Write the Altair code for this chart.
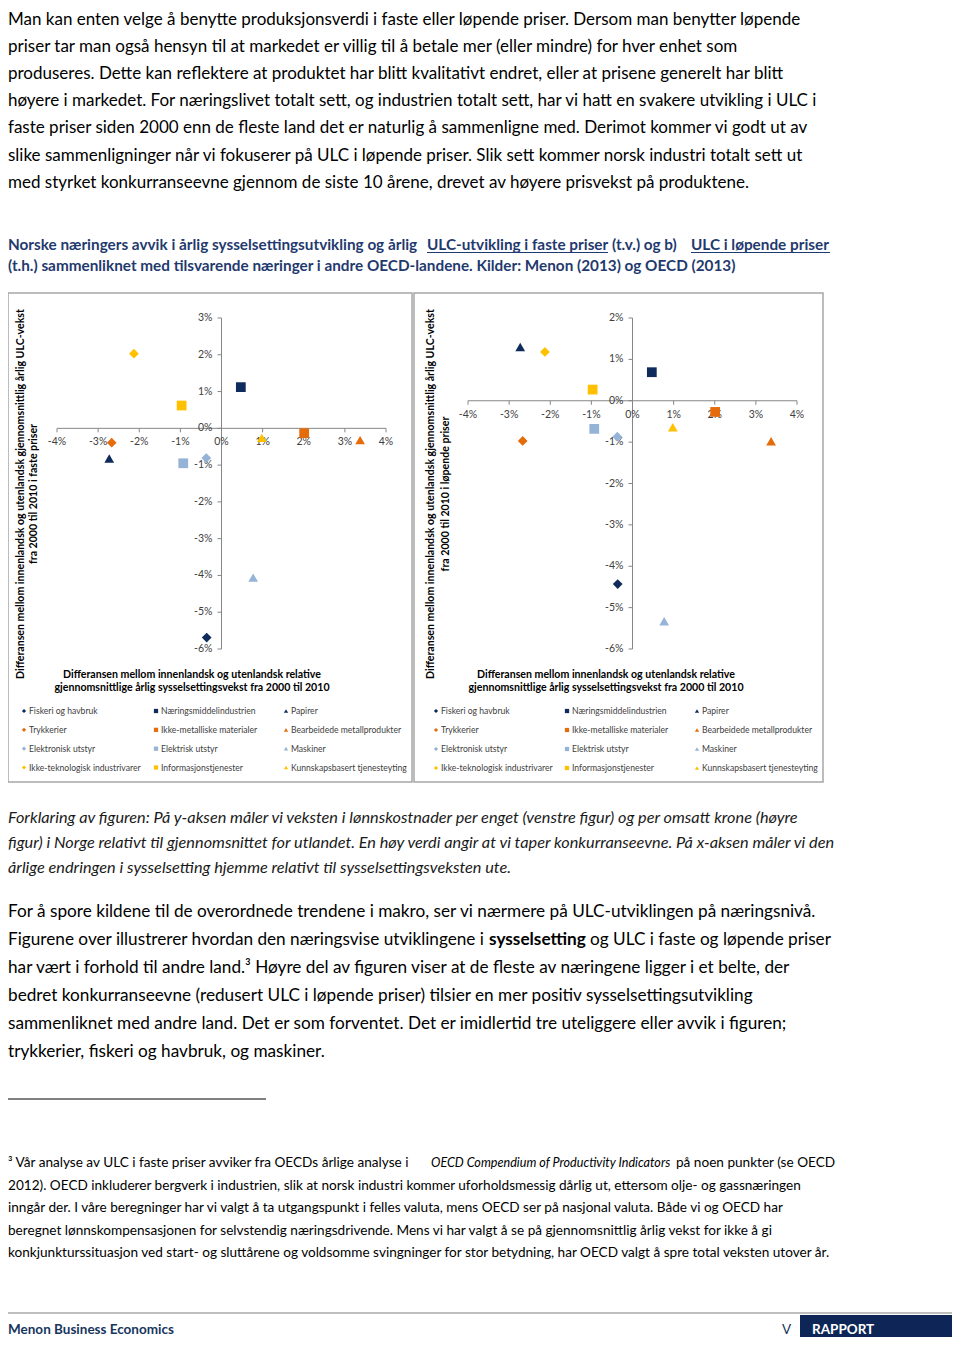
import altair as alt
import pandas as pd

FONT = "Lato"
OX, OY = 8, 8
L = 8  # left text edge (page px)

def P(x):
    return x - OX

def Q(y):
    return y - OY

# ---------------- data ----------------
series = ["Fiskeri og havbruk", "Næringsmiddelindustrien", "Papirer",
          "Trykkerier", "Ikke-metalliske materialer", "Bearbeidede metallprodukter",
          "Elektronisk utstyr", "Elektrisk utstyr", "Maskiner",
          "Ikke-teknologisk industrivarer", "Informasjonstjenester", "Kunnskapsbasert tjenesteyting"]
NAVY, ORANGE, LBLUE, GOLD = "#0F2B5B", "#E46C0A", "#95B3D7", "#FFC000"
series_colors = [NAVY, NAVY, NAVY, ORANGE, ORANGE, ORANGE, LBLUE, LBLUE, LBLUE, GOLD, GOLD, GOLD]
series_shapes = ["diamond", "square", "triangle-up"] * 4

emp_diff = [-0.36, 0.47, -2.73, -2.67, 2.01, 3.37, -0.37, -0.93, 0.77, -2.13, -0.97, 0.98]
ulc_fixed = [-5.69, 1.12, -0.82, -0.39, -0.13, -0.32, -0.81, -0.95, -4.06, 2.03, 0.62, -0.26]
ulc_current = [-4.43, 0.69, 1.30, -0.97, -0.27, -0.98, -0.87, -0.68, -5.33, 1.18, 0.27, -0.64]

x_ticks = [-4, -3, -2, -1, 0, 1, 2, 3, 4]
y_ticks_left = [3, 2, 1, 0, -1, -2, -3, -4, -5, -6]
y_ticks_right = [2, 1, 0, -1, -2, -3, -4, -5, -6]

para1 = [
    "Man kan enten velge å benytte produksjonsverdi i faste eller løpende priser. Dersom man benytter løpende",
    "priser tar man også hensyn til at markedet er villig til å betale mer (eller mindre) for hver enhet som",
    "produseres. Dette kan reflektere at produktet har blitt kvalitativt endret, eller at prisene generelt har blitt",
    "høyere i markedet. For næringslivet totalt sett, og industrien totalt sett, har vi hatt en svakere utvikling i ULC i",
    "faste priser siden 2000 enn de fleste land det er naturlig å sammenligne med. Derimot kommer vi godt ut av",
    "slike sammenligninger når vi fokuserer på ULC i løpende priser. Slik sett kommer norsk industri totalt sett ut",
    "med styrket konkurranseevne gjennom de siste 10 årene, drevet av høyere prisvekst på produktene.",
]
caption_line1 = ["Norske næringers avvik i årlig sysselsettingsutvikling og årlig", "ULC-utvikling i faste priser",
                 "(t.v.) og b)", "ULC i løpende priser"]
caption_line2 = "(t.h.) sammenliknet med tilsvarende næringer i andre OECD-landene. Kilder: Menon (2013) og OECD (2013)"
explain = [
    "Forklaring av figuren: På y-aksen måler vi veksten i lønnskostnader per enget (venstre figur) og per omsatt krone (høyre",
    "figur) i Norge relativt til gjennomsnittet for utlandet. En høy verdi angir at vi taper konkurranseevne. På x-aksen måler vi den",
    "årlige endringen i sysselsetting hjemme relativt til sysselsettingsveksten ute.",
]
para2 = [
    "For å spore kildene til de overordnede trendene i makro, ser vi nærmere på ULC-utviklingen på næringsnivå.",
    "",
    "har vært i forhold til andre land.³ Høyre del av figuren viser at de fleste av næringene ligger i et belte, der",
    "bedret konkurranseevne (redusert ULC i løpende priser) tilsier en mer positiv sysselsettingsutvikling",
    "sammenliknet med andre land. Det er som forventet. Det er imidlertid tre uteliggere eller avvik i figuren;",
    "trykkerier, fiskeri og havbruk, og maskiner.",
]
para2_line2 = ["Figurene over illustrerer hvordan den næringsvise utviklingene i", "sysselsetting",
               "og ULC i faste og løpende priser"]
footnote = [
    "",
    "2012). OECD inkluderer bergverk i industrien, slik at norsk industri kommer uforholdsmessig dårlig ut, ettersom olje- og gassnæringen",
    "inngår der. I våre beregninger har vi valgt å ta utgangspunkt i felles valuta, mens OECD ser på nasjonal valuta. Både vi og OECD har",
    "beregnet lønnskompensasjonen for selvstendig næringsdrivende. Mens vi har valgt å se på gjennomsnittlig årlig vekst for ikke å gi",
    "konkjunkturssituasjon ved start- og sluttårene og voldsomme svingninger for stor betydning, har OECD valgt å spre total veksten utover år.",
]
footnote_line1 = ["³ Vår analyse av ULC i faste priser avviker fra OECDs årlige analyse i",
                  "OECD Compendium of Productivity Indicators", "på noen punkter (se OECD"]

x_title = ["Differansen mellom innenlandsk og utenlandsk relative",
           "gjennomsnittlige årlig sysselsettingsvekst fra 2000  til 2010"]
y_title_left = ["Differansen mellom innenlandsk og utenlandsk gjennomsnittlig årlig ULC-vekst",
                "fra 2000 til 2010 i faste priser"]
y_title_right = ["Differansen mellom innenlandsk og utenlandsk gjennomsnittlig årlig ULC-vekst",
                 "fra 2000 til 2010 i løpende priser"]

dummy = pd.DataFrame({"a": [0]})

# ---------------- helpers ----------------
def text_block(lines, x, y0, step, size, weight="normal", style="normal", color="#000000"):
    n = len(lines)
    df = pd.DataFrame({"i": list(range(n)), "t": lines})
    m = max(n - 1, 1)
    ys = alt.Scale(domain=[0, m], range=[Q(y0), Q(y0 + step * m)])
    return alt.Chart(df).mark_text(align="left", baseline="alphabetic", font=FONT, fontSize=size,
                                   fontWeight=weight, fontStyle=style, color=color).encode(
        x=alt.value(P(x)), y=alt.Y("i:Q", scale=ys, axis=None), text="t:N")


def seg(t, x, y, size, weight="normal", style="normal", color="#000000", align="left"):
    return alt.Chart(pd.DataFrame({"t": [t]})).mark_text(
        align=align, baseline="alphabetic", font=FONT, fontSize=size,
        fontWeight=weight, fontStyle=style, color=color).encode(
        x=alt.value(P(x)), y=alt.value(Q(y)), text="t:N")


def box(x0, x1, y0, y1, fill=None, stroke=None, sw=1):
    kw = {}
    kw["fill"] = fill if fill else "transparent"
    if stroke:
        kw["stroke"] = stroke
        kw["strokeWidth"] = sw
    return alt.Chart(dummy).mark_rect(**kw).encode(
        x=alt.value(P(x0)), x2=alt.value(P(x1)), y=alt.value(Q(y0)), y2=alt.value(Q(y1)))


def hline(x0, x1, y, color, sw):
    return alt.Chart(dummy).mark_rule(color=color, strokeWidth=sw).encode(
        x=alt.value(P(x0)), x2=alt.value(P(x1)), y=alt.value(Q(y)))


AX = "#868686"
LAB = "#404040"
TFS = 10.6


def panel(frame, xr, yr, ydom, yticks, yvals, leg_x, leg_y, xt_center, xt_y, yt_x, yt_center, ytitle):
    layers = []
    layers.append(box(frame[0], frame[1], frame[2], frame[3], fill="white", stroke="#A6A6A6", sw=1.5))
    xs = alt.Scale(domain=[-4, 4], range=[P(xr[0]), P(xr[1])], nice=False, zero=False)
    ys = alt.Scale(domain=ydom, range=[Q(yr[0]), Q(yr[1])], nice=False, zero=False)
    # axis lines
    layers.append(alt.Chart(dummy).mark_rule(color=AX, strokeWidth=1).encode(
        x=alt.X(datum=0, type="quantitative", scale=xs, axis=None),
        y=alt.Y(datum=ydom[0], type="quantitative", scale=ys, axis=None),
        y2=alt.Y2(datum=ydom[1])))
    layers.append(alt.Chart(dummy).mark_rule(color=AX, strokeWidth=1).encode(
        y=alt.Y(datum=0, type="quantitative", scale=ys, axis=None),
        x=alt.X(datum=-4, type="quantitative", scale=xs, axis=None),
        x2=alt.X2(datum=4)))
    xt = pd.DataFrame({"v": x_ticks, "lab": [f"{v}%" for v in x_ticks]})
    yt = pd.DataFrame({"v": yticks, "lab": [f"{v}%" for v in yticks]})
    # ticks
    layers.append(alt.Chart(xt).mark_rule(color=AX, strokeWidth=1, y2Offset=4).encode(
        x=alt.X("v:Q", scale=xs, axis=None),
        y=alt.Y(datum=0, type="quantitative", scale=ys, axis=None),
        y2=alt.Y2(datum=0)))
    layers.append(alt.Chart(yt).mark_rule(color=AX, strokeWidth=1, xOffset=-4).encode(
        y=alt.Y("v:Q", scale=ys, axis=None),
        x=alt.X(datum=0, type="quantitative", scale=xs, axis=None),
        x2=alt.X2(datum=0)))
    # tick labels
    layers.append(alt.Chart(xt).mark_text(font=FONT, fontSize=10.5, color=LAB, dy=14, baseline="middle").encode(
        x=alt.X("v:Q", scale=xs, axis=None),
        y=alt.Y(datum=0, type="quantitative", scale=ys, axis=None),
        text="lab:N"))
    layers.append(alt.Chart(yt).mark_text(font=FONT, fontSize=10.5, color=LAB, dx=-9, align="right",
                                          baseline="middle").encode(
        y=alt.Y("v:Q", scale=ys, axis=None),
        x=alt.X(datum=0, type="quantitative", scale=xs, axis=None),
        text="lab:N"))
    # points
    pts = pd.DataFrame({"series": series, "x": emp_diff, "y": yvals})
    cs = alt.Scale(domain=series, range=series_colors)
    ss = alt.Scale(domain=series, range=series_shapes)
    layers.append(alt.Chart(pts).mark_point(filled=True, size=95, opacity=1).encode(
        x=alt.X("x:Q", scale=xs, axis=None),
        y=alt.Y("y:Q", scale=ys, axis=None),
        color=alt.Color("series:N", scale=cs, legend=None),
        shape=alt.Shape("series:N", scale=ss, legend=None)))
    # legend
    leg = pd.DataFrame({"series": series, "row": [i // 3 for i in range(12)], "col": [i % 3 for i in range(12)]})
    lxs = alt.Scale(domain=[0, 1, 2], range=[P(v) for v in leg_x], nice=False, zero=False)
    lys = alt.Scale(domain=[0, 3], range=[Q(leg_y[0]), Q(leg_y[1])], nice=False, zero=False)
    layers.append(alt.Chart(leg).mark_point(filled=True, size=18, opacity=1).encode(
        x=alt.X("col:Q", scale=lxs, axis=None),
        y=alt.Y("row:Q", scale=lys, axis=None),
        color=alt.Color("series:N", scale=cs, legend=None),
        shape=alt.Shape("series:N", scale=ss, legend=None)))
    layers.append(alt.Chart(leg).mark_text(font=FONT, fontSize=8.6, color=LAB, align="left", dx=5,
                                           baseline="middle").encode(
        x=alt.X("col:Q", scale=lxs, axis=None),
        y=alt.Y("row:Q", scale=lys, axis=None),
        text="series:N"))
    # x title
    xtd = pd.DataFrame({"i": [0, 1], "t": x_title})
    layers.append(alt.Chart(xtd).mark_text(font=FONT, fontSize=TFS, fontWeight="bold", color="#000000",
                                           baseline="middle").encode(
        x=alt.value(P(xt_center)),
        y=alt.Y("i:Q", scale=alt.Scale(domain=[0, 1], range=[Q(xt_y[0]), Q(xt_y[1])]), axis=None),
        text="t:N"))
    # y title
    ytd = pd.DataFrame({"i": [0, 1], "t": ytitle})
    layers.append(alt.Chart(ytd).mark_text(font=FONT, fontSize=TFS, fontWeight="bold", color="#000000",
                                           baseline="middle", angle=270).encode(
        y=alt.value(Q(yt_center)),
        x=alt.X("i:Q", scale=alt.Scale(domain=[0, 1], range=[P(yt_x[0]), P(yt_x[1])]), axis=None),
        text="t:N"))
    return layers


CAP = "#1F3A6E"
layers = []
layers.append(text_block(para1, L, 24.5, 27.2, 17))
# caption
layers.append(seg(caption_line1[0], L, 250, 15.3, weight="bold", color=CAP))
layers.append(seg(caption_line1[1], 427, 250, 15.3, weight="bold", color=CAP))
layers.append(seg(caption_line1[2], 612, 250, 15.3, weight="bold", color=CAP))
layers.append(seg(caption_line1[3], 691, 250, 15.3, weight="bold", color=CAP))
layers.append(hline(427, 608, 252.5, CAP, 1))
layers.append(hline(691, 830, 252.5, CAP, 1))
layers.append(seg(caption_line2, L, 270.5, 15.3, weight="bold", color=CAP))
# charts
layers += panel((8, 412, 293, 782), (57, 386), (649, 318), [-6, 3], y_ticks_left, ulc_fixed,
                (24, 156, 286), (711, 767.5), 192, (675, 688), (21, 34), 494, y_title_left)
layers += panel((414, 823, 293, 782), (468, 797), (649, 318), [-6, 2], y_ticks_right, ulc_current,
                (436, 567, 697), (711, 768), 606, (675, 688), (431, 446), 494, y_title_right)
layers.append(text_block(explain, L, 823, 25, 16.3, style="italic", color="#1A1A1A"))
layers.append(text_block(para2, L, 917, 27.9, 17.2))
layers.append(seg(para2_line2[0], L, 945, 17.2))
layers.append(seg(para2_line2[1], 489, 945, 17.2, weight="bold"))
layers.append(seg(para2_line2[2], 590, 945, 17.2))
layers.append(hline(L, 266, 1099, "#000000", 1))
layers.append(text_block(footnote, L, 1167, 22.5, 13.6))
layers.append(seg(footnote_line1[0], L, 1167, 13.6))
layers.append(seg(footnote_line1[1], 431, 1167, 12.6, style="italic"))
layers.append(seg(footnote_line1[2], 676, 1167, 13.6))
# footer
layers.append(hline(L, 952, 1313, "#BFBFBF", 2))
layers.append(box(800, 952, 1315, 1345, fill="#0D2557"))
layers.append(seg("Menon Business Economics", L, 1334, 13.5, weight="bold", color="#17365D"))
layers.append(seg("V", 782, 1334, 13.5, color="#17365D"))
layers.append(seg("RAPPORT", 812, 1334, 13.5, weight="bold", color="#FFFFFF"))

chart = alt.layer(*layers).resolve_scale(
    x="independent", y="independent", color="independent", shape="independent"
).properties(
    width=944, height=1329, padding=0, autosize=alt.AutoSizeParams(type="none"),
    background="white"
).configure_view(stroke=None)

chart.save("out.html", embed_options={"renderer": "svg", "actions": False})
